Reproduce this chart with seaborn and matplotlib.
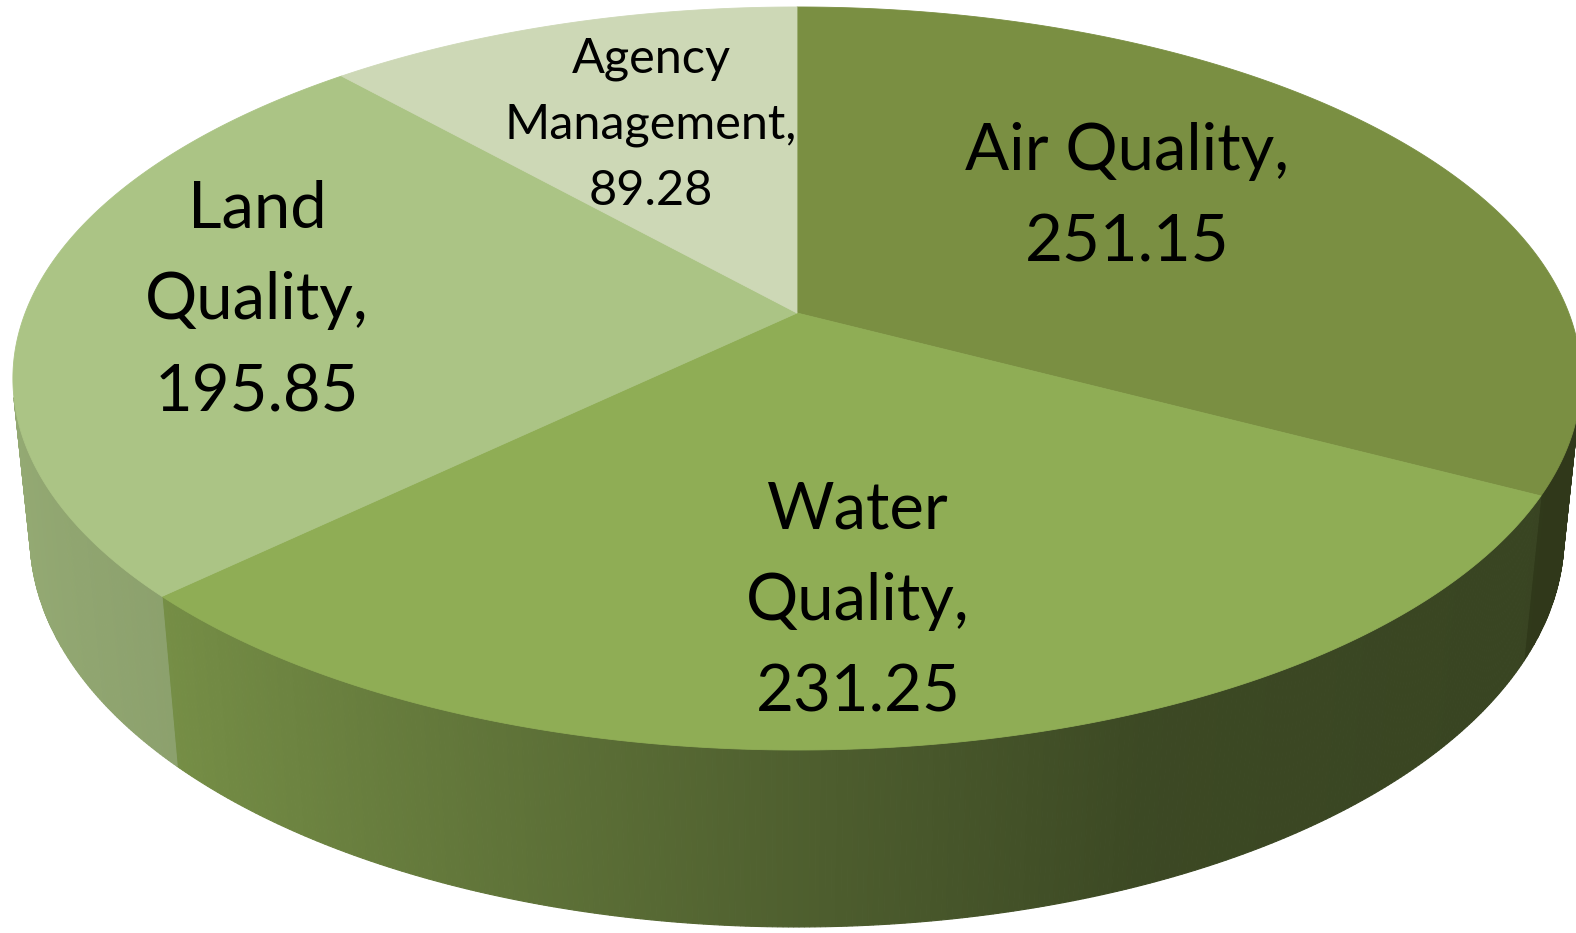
import numpy as np
import matplotlib
matplotlib.use("Agg")
import matplotlib.pyplot as plt
import seaborn as sns
from matplotlib.colors import to_rgb

# ---------------- data ----------------
categories = ["Air Quality", "Water Quality", "Land Quality", "Agency Management"]
values = [251.15, 231.25, 195.85, 89.28]
break_first_space = [False, True, True, True]
top_colors = ["#7a8f42", "#8fad55", "#abc485", "#cdd8b6"]

# ---------------- layout ----------------
W, H = 1576, 933
CX, CY = 797, 313          # pie vertex on screen (px)
FOCAL = 3873.0             # perspective focal length (px)
DIST = 5.018               # camera distance (in pie radii)
TILT = np.radians(27.8)    # camera elevation
THICK = 0.233              # pie thickness (in pie radii)

# (center x, baseline of last line) in px
label_pos = [(1127, 262), (858, 712), (257, 411), (651, 205)]
label_size = [47, 47, 47, 35]
label_ls = [1.68, 1.68, 1.68, 1.6]

# wall shading as function of cos(theta)
shade_u = [-1.0, -0.72, 0.0, 0.38, 1.0]
shade_f = [0.87, 0.82, 0.55, 0.42, 0.39]

sns.set_theme(style="white")
plt.rcParams["font.family"] = ["Lato", "DejaVu Sans"]

S, C = np.sin(TILT), np.cos(TILT)


def project(theta, z=0.0, r=1.0):
    X = r * np.cos(theta)
    Y = r * np.sin(theta)
    depth = DIST + Y * C - z * S
    yc = Y * S + z * C
    return CX + FOCAL * X / depth, CY - FOCAL * yc / depth


fig = plt.figure(figsize=(W / 100, H / 100), dpi=100)
ax = fig.add_axes([0, 0, 1, 1])
ax.set_xlim(0, W)
ax.set_ylim(H, 0)
ax.axis("off")

total = float(np.sum(values))
cum = np.concatenate([[0.0], np.cumsum(values)]) / total * 360.0
starts = 90.0 - cum[:-1]
ends = 90.0 - cum[1:]

# visible wall range
a = np.degrees(np.arcsin(1.0 / (DIST * C)))
vis_lo, vis_hi = -180.0 + a, -a

# ---- side walls ----
for i in range(len(values)):
    base = np.array(to_rgb(top_colors[i]))
    for shift in (0.0, -360.0, 360.0):
        lo = max(ends[i] + shift, vis_lo)
        hi = min(starts[i] + shift, vis_hi)
        if hi <= lo:
            continue
        n = max(2, int((hi - lo) * 3))
        th = np.radians(np.linspace(lo, hi, n + 1))
        for k in range(n):
            t0, t1 = th[k], th[k + 1]
            x0t, y0t = project(t0, 0.0)
            x1t, y1t = project(t1, 0.0)
            x0b, y0b = project(t0, -THICK)
            x1b, y1b = project(t1, -THICK)
            f = np.interp(np.cos(0.5 * (t0 + t1)), shade_u, shade_f)
            col = np.clip(base * f, 0, 1)
            ax.fill([x0t, x1t, x1b, x0b], [y0t, y1t, y1b, y0b],
                    facecolor=col, edgecolor=col, lw=0.8, zorder=1)

# ---- top face ----
for i in range(len(values)):
    th = np.radians(np.linspace(starts[i], ends[i], 400))
    xs, ys = project(th, 0.0)
    xs = np.concatenate([[CX], xs])
    ys = np.concatenate([[CY], ys])
    ax.fill(xs, ys, facecolor=top_colors[i], edgecolor=top_colors[i],
            lw=0.6, zorder=2)

# ---- labels ----
for i, cat in enumerate(categories):
    name = cat.replace(" ", "\n", 1) if break_first_space[i] else cat
    txt = f"{name},\n{values[i]:.2f}"
    ax.text(label_pos[i][0], label_pos[i][1], txt, ha="center", va="baseline",
            multialignment="center", fontsize=label_size[i],
            linespacing=label_ls[i], color="black", zorder=3)

fig.savefig("out.png", dpi=100, facecolor="white")
